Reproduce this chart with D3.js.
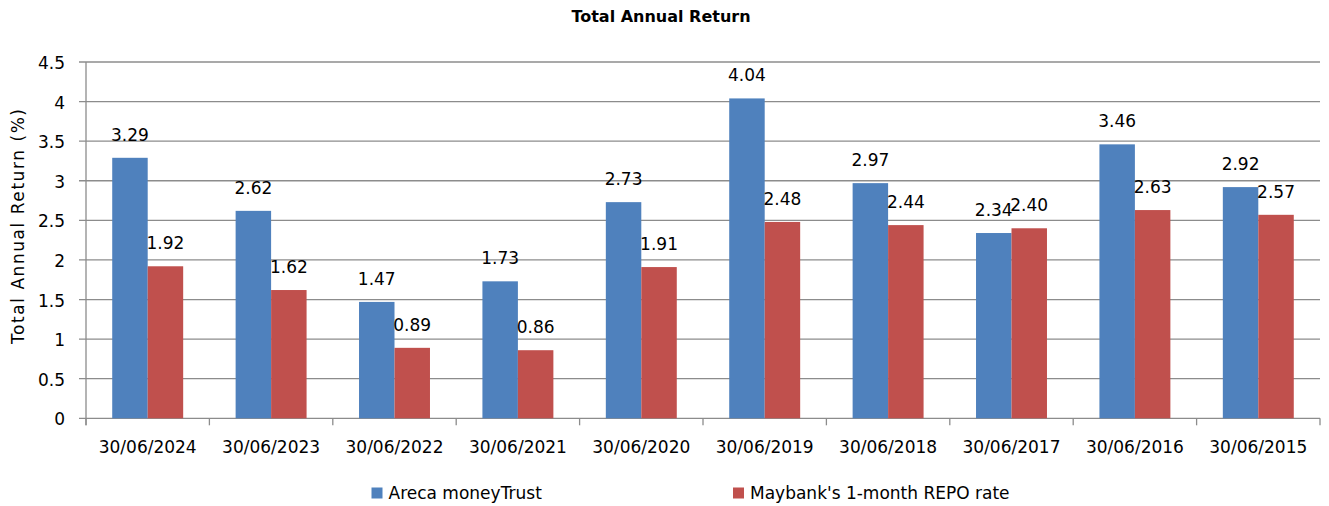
<!DOCTYPE html>
<html><head><meta charset="utf-8">
<script src="https://cdn.jsdelivr.net/npm/d3@7"></script>
<style>
html,body{margin:0;padding:0;background:#fff;}
svg{display:block;}
text{font-family:"DejaVu Sans",sans-serif;fill:#000;}
</style></head>
<body>
<svg id="chart" width="1329" height="506"></svg>
<script>
const categories = ["30/06/2024","30/06/2023","30/06/2022","30/06/2021","30/06/2020","30/06/2019","30/06/2018","30/06/2017","30/06/2016","30/06/2015"];
const seriesNames = ["Areca moneyTrust","Maybank's 1-month REPO rate"];
const arecaValues = [3.29,2.62,1.47,1.73,2.73,4.04,2.97,2.34,3.46,2.92];
const maybankValues = [1.92,1.62,0.89,0.86,1.91,2.48,2.44,2.40,2.63,2.57];
const yTicks = [0,0.5,1,1.5,2,2.5,3,3.5,4,4.5];
const yTickLabels = ["0","0.5","1","1.5","2","2.5","3","3.5","4","4.5"];
const colors = ["#4F81BD","#C0504D"];

(function(){
const svg = d3.select("#chart");
const pLeft = 86, pRight = 1320, pTop = 62, pBottom = 418.3;

const x = d3.scaleBand().domain(categories).range([pLeft, pRight]).paddingInner(0).paddingOuter(0);
const groupFrac = 0.575;
const xs = d3.scaleBand().domain([0,1]).range([0, x.bandwidth()*groupFrac]);
const y = d3.scaleLinear().domain([0,4.5]).range([pBottom, pTop]);

const gridColor = "#8c8c8c";

svg.append("g").selectAll("line").data(yTicks).join("line")
  .attr("x1", pLeft - 7).attr("x2", pRight)
  .attr("y1", d => y(d)).attr("y2", d => y(d))
  .attr("stroke", gridColor).attr("stroke-width", 1.3);

svg.append("line").attr("x1", pLeft).attr("x2", pLeft).attr("y1", pTop).attr("y2", pBottom + 7)
  .attr("stroke", gridColor).attr("stroke-width", 1.3);

svg.append("g").selectAll("line").data(d3.range(categories.length + 1)).join("line")
  .attr("x1", i => pLeft + i*x.bandwidth()).attr("x2", i => pLeft + i*x.bandwidth())
  .attr("y1", pBottom).attr("y2", pBottom + 7)
  .attr("stroke", gridColor).attr("stroke-width", 1.3);

svg.append("g").selectAll("text").data(yTicks).join("text")
  .attr("x", 65).attr("y", d => y(d) + 7)
  .attr("text-anchor", "end").attr("font-size", 17)
  .text((d,i) => yTickLabels[i]);

svg.append("g").selectAll("text").data(categories).join("text")
  .attr("x", d => x(d) + x.bandwidth()/2).attr("y", 453)
  .attr("text-anchor", "middle").attr("font-size", 17)
  .text(d => d);

const series = [arecaValues, maybankValues];
const offset = x.bandwidth()*(1-groupFrac)/2;

series.forEach((vals, si) => {
  const g = svg.append("g");
  g.selectAll("rect").data(vals).join("rect")
    .attr("x", (d,i) => x(categories[i]) + offset + xs(si))
    .attr("width", xs.bandwidth())
    .attr("y", d => y(d))
    .attr("height", d => pBottom - y(d))
    .attr("fill", colors[si]);
  g.selectAll("text").data(vals).join("text")
    .attr("x", (d,i) => x(categories[i]) + offset + xs(si) + xs.bandwidth()/2)
    .attr("y", d => y(d) - 17)
    .attr("text-anchor", "middle").attr("font-size", 17)
    .text(d => d.toFixed(2));
});

svg.append("text").attr("x", 661).attr("y", 22).attr("text-anchor", "middle")
  .attr("font-size", 16).attr("font-weight", "bold").text("Total Annual Return");

svg.append("text").attr("transform", "translate(24,226.5) rotate(-90)")
  .attr("text-anchor", "middle").attr("font-size", 17)
  .attr("textLength", 235).attr("lengthAdjust", "spacing")
  .text("Total Annual Return (%)");

const legendX = [371.5, 733];
seriesNames.forEach((name, i) => {
  svg.append("rect").attr("x", legendX[i]).attr("y", 487.5).attr("width", 11).attr("height", 11).attr("fill", colors[i]);
  svg.append("text").attr("x", legendX[i] + 17).attr("y", 498.5).attr("font-size", 17).text(name);
});
})();
</script>
</body></html>
